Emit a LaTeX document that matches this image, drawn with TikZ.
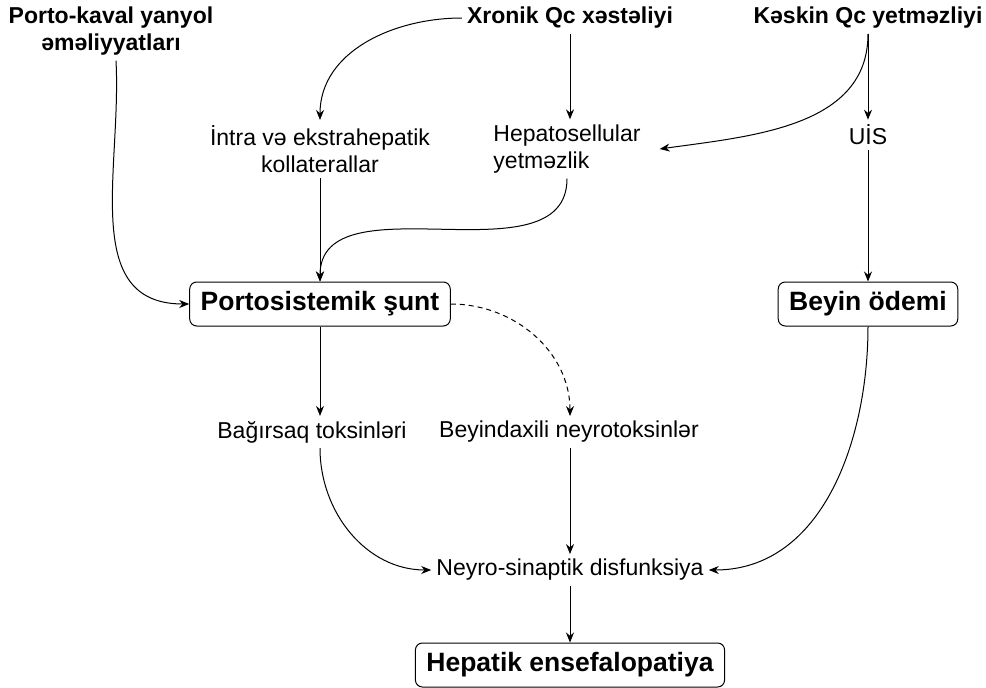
\documentclass[tikz,border=0pt]{standalone}
\usepackage{fontspec}
\setmainfont{Liberation Sans}
\usetikzlibrary{arrows.meta}
\begin{document}
\begin{tikzpicture}[x=1pt,y=-1pt,
  lbl/.style={font=\fontsize{23}{27.5}\selectfont, inner sep=5pt, align=center},
  blbl/.style={lbl, font=\fontsize{23}{27.5}\selectfont\bfseries},
  box/.style={draw, rounded corners=7pt, line width=1pt, font=\fontsize{26.5}{31}\selectfont\bfseries, minimum height=44pt, inner xsep=11pt},
  arr/.style={-{Stealth[length=10pt,width=8pt]}, line width=1pt}]
\useasboundingbox (0,0) rectangle (986,688);

\node[blbl] (pk) at (111,31) {Porto-kaval yanyol\\əməliyyatları};
\node[blbl] (xr) at (570,18) {Xronik Qc xəstəliyi};
\node[blbl] (ks) at (868,18) {Kəskin Qc yetməzliyi};
\node[lbl] (in) at (320,149) {İntra və ekstrahepatik\\kollaterallar};
\node[lbl, align=left] (hs) at (567,149) {Hepatosellular\\yetməzlik};
\node[lbl] (uis) at (868,135) {UİS};
\node[box] (ps) at (320,304) {Portosistemik şunt};
\node[box] (bo) at (868,304) {Beyin ödemi};
\node[lbl] (bt) at (312,432) {Bağırsaq toksinləri};
\node[lbl] (bn) at (569,432) {Beyindaxili neyrotoksinlər};
\node[lbl] (nd) at (570,570) {Neyro-sinaptik disfunksiya};
\node[box] (he) at (570,665) {Hepatik ensefalopatiya};

\draw[arr] ([xshift=5pt]pk.south) to[out=-87,in=180,looseness=1.1] (ps.west);
\draw[arr] (xr.west) to[out=180,in=90] (in.north);
\draw[arr] (xr.south) -- (xr.south |- hs.north);
\draw[arr] (ks.south) -- (uis.north);
\draw[arr] (ks.south) to[out=-90,in=8] ([xshift=14pt]hs.east);
\draw[arr] (in.south) -- (ps.north);
\draw[arr] (hs.south) to[out=-90,in=90] (ps.north);
\draw[arr] (uis.south) -- (bo.north);
\draw[arr] (ps.south) -- (ps.south |- bt.north);
\draw[arr,dash pattern=on 5pt off 4pt] (ps.east) to[out=0,in=90] (nd.north |- bn.north);
\draw[arr] (ps.south |- bt.south) to[out=-90,in=180] (nd.west);
\draw[arr] (nd.north |- bn.south) -- (nd.north);
\draw[arr] (bo.south) to[out=-90,in=0] (nd.east);
\draw[arr] (nd.south) -- (he.north);
\end{tikzpicture}
\end{document}
